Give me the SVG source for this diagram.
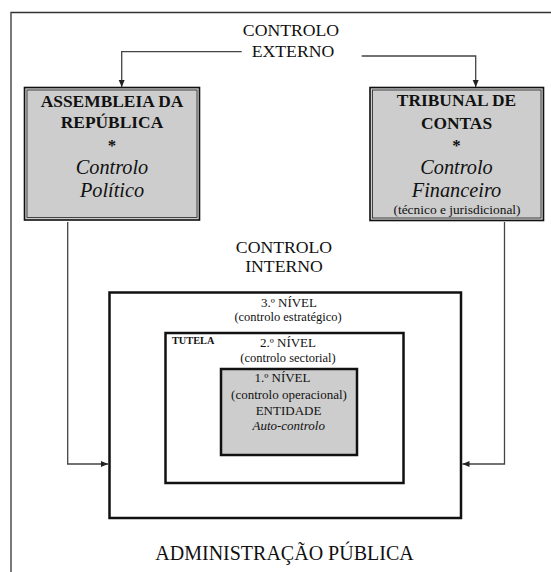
<svg xmlns="http://www.w3.org/2000/svg" width="551" height="572" viewBox="0 0 551 572" font-family="Liberation Serif, Times New Roman, DejaVu Serif, serif">
<defs>
<style>
text{font-family:'Liberation Serif','Times New Roman','DejaVu Serif',serif;fill:#111;text-anchor:middle}
.b{font-weight:bold}
.i{font-style:italic}
.conn{fill:none;stroke:#444;stroke-width:1.3}
.lvl{fill:none;stroke:#111;stroke-width:2.5}
</style>
<marker id="ah" markerUnits="userSpaceOnUse" markerWidth="8" markerHeight="8" refX="7" refY="4" orient="auto">
<path d="M0,1 L7,4 L0,7 Z" fill="#222"/>
</marker>
</defs>
<rect width="551" height="572" fill="#fff"/>
<path d="M11,572 V12.5 H551" fill="none" stroke="#333" stroke-width="1.3"/>

<g id="controlo-externo">
<text x="291" y="36" font-size="17.7">CONTROLO</text>
<text x="293" y="57" font-size="17.7">EXTERNO</text>
</g>

<g id="assembleia">
<rect x="24.5" y="87.5" width="175" height="132.5" fill="#cdcdcd" stroke="#111" stroke-width="1.6"/>
<rect x="27" y="90" width="170" height="127.5" fill="none" stroke="#333" stroke-width="0.9"/>
<text class="b" x="112" y="106.7" font-size="17.4">ASSEMBLEIA DA</text>
<text class="b" x="112" y="128.3" font-size="17.4">REPÚBLICA</text>
<text class="b" x="112" y="151" font-size="16.8">*</text>
<text class="i" x="112" y="174" font-size="20.3">Controlo</text>
<text class="i" x="112" y="197.3" font-size="20.3">Político</text>
</g>

<g id="tribunal">
<rect x="370" y="87.5" width="173.5" height="133" fill="#cdcdcd" stroke="#111" stroke-width="1.6"/>
<rect x="372.5" y="90" width="168.5" height="128" fill="none" stroke="#333" stroke-width="0.9"/>
<text class="b" x="456.5" y="106" font-size="17.4">TRIBUNAL DE</text>
<text class="b" x="456.5" y="129" font-size="17.4">CONTAS</text>
<text class="b" x="456.5" y="151" font-size="16.8">*</text>
<text class="i" x="456.5" y="174" font-size="20.3">Controlo</text>
<text class="i" x="456.5" y="196.7" font-size="20.3">Financeiro</text>
<text x="457" y="214.3" font-size="12.5" textLength="127" lengthAdjust="spacingAndGlyphs">(técnico e jurisdicional)</text>
</g>

<g id="controlo-interno">
<text x="284" y="252.7" font-size="17.7">CONTROLO</text>
<text x="284" y="272.3" font-size="17.7">INTERNO</text>
</g>

<g id="nivel3">
<rect class="lvl" x="109.5" y="292.5" width="351.5" height="225.5"/>
<text x="289" y="307" font-size="13">3.º NÍVEL</text>
<text x="288" y="321" font-size="12.5">(controlo estratégico)</text>
</g>

<g id="nivel2">
<rect class="lvl" x="165.5" y="333" width="238" height="150"/>
<text class="b" x="172" y="344" font-size="10.3" style="text-anchor:start">TUTELA</text>
<text x="288" y="347" font-size="13">2.º NÍVEL</text>
<text x="288" y="362" font-size="12.5">(controlo sectorial)</text>
</g>

<g id="nivel1">
<rect x="221" y="369" width="136" height="86" fill="#cdcdcd" stroke="#111" stroke-width="2.5"/>
<text x="282.5" y="382.3" font-size="13">1.º NÍVEL</text>
<text x="289" y="399" font-size="13">(controlo operacional)</text>
<text x="288.5" y="415" font-size="13">ENTIDADE</text>
<text class="i" x="288.7" y="429.5" font-size="13">Auto-controlo</text>
</g>

<g id="administracao">
<text x="284.5" y="560" font-size="20">ADMINISTRAÇÃO PÚBLICA</text>
</g>

<g id="connectors">
<path class="conn" d="M241.7,51.7 H121.7 V87" marker-end="url(#ah)"/>
<path class="conn" d="M361.7,56 H475.7 V87" marker-end="url(#ah)"/>
<path class="conn" d="M67.7,222 V464 H108" marker-end="url(#ah)"/>
<path class="conn" d="M504.5,222 V464 H462.5" marker-end="url(#ah)"/>
</g>
</svg>
